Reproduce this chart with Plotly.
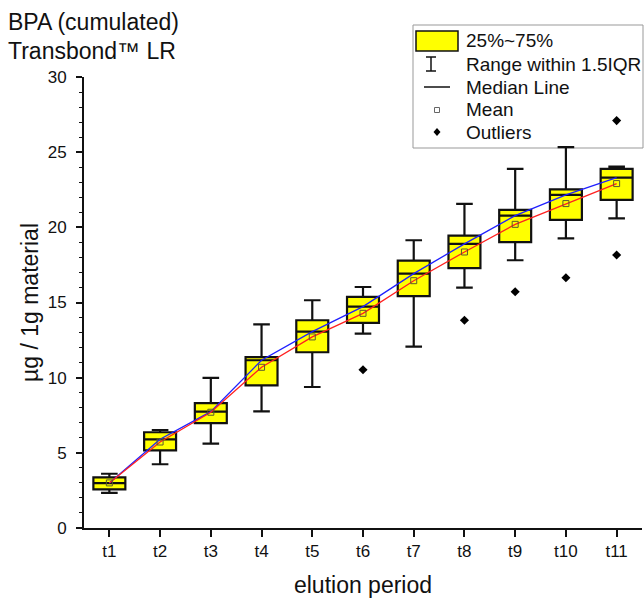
import plotly.graph_objects as go

# ---- data ----
periods = ["t1", "t2", "t3", "t4", "t5", "t6", "t7", "t8", "t9", "t10", "t11"]
whisker_low = [2.33, 4.24, 5.61, 7.76, 9.38, 12.93, 12.06, 15.99, 17.81, 19.27, 20.60]
q1 = [2.57, 5.17, 6.97, 9.49, 11.69, 13.64, 15.42, 17.28, 19.01, 20.49, 21.82]
median = [2.99, 5.90, 7.74, 11.16, 13.06, 14.73, 16.92, 18.90, 20.78, 22.16, 23.31]
q3 = [3.37, 6.37, 8.30, 11.36, 13.82, 15.37, 17.79, 19.45, 21.16, 22.53, 23.89]
whisker_high = [3.61, 6.52, 9.98, 13.55, 15.15, 16.03, 19.14, 21.56, 23.89, 25.33, 24.04]
mean = [3.00, 5.72, 7.70, 10.69, 12.71, 14.28, 16.45, 18.36, 20.20, 21.58, 22.91]
outlier_period = ["t6", "t8", "t9", "t10", "t11", "t11"]
outlier_value = [10.53, 13.82, 15.72, 16.65, 18.16, 27.10]
y_ticks = [0, 5, 10, 15, 20, 25, 30]

FONT = "Liberation Sans, Arial, sans-serif"
W, H = 644, 598
# plot area in page pixels: x 84..642, y 77..528
ML = 84
MR = W - 642
MT = 77
MB = H - 528
PW, PH = W - ML - MR, H - MT - MB


def px(x):  # page pixel -> paper
    return (x - ML) / PW


def py(y):
    return (H - MB - y) / PH


fig = go.Figure()

fig.add_trace(go.Box(
    x=periods, q1=q1, median=median, q3=q3,
    lowerfence=whisker_low, upperfence=whisker_high,
    boxpoints=False, width=0.63, whiskerwidth=0.52,
    fillcolor="#FFFF00", line=dict(color="#111111", width=2.2),
    showlegend=False, hoverinfo="skip",
))

fig.add_trace(go.Scatter(
    x=periods, y=median, mode="lines",
    line=dict(color="#1f1fff", width=1.3), showlegend=False, hoverinfo="skip",
))
fig.add_trace(go.Scatter(
    x=periods, y=mean, mode="lines",
    line=dict(color="#ff2020", width=1.3), showlegend=False, hoverinfo="skip",
))
fig.add_trace(go.Scatter(
    x=periods, y=mean, mode="markers",
    marker=dict(symbol="square-open", size=6, color="#5a5a30", line=dict(width=1)),
    showlegend=False, hoverinfo="skip",
))
fig.add_trace(go.Scatter(
    x=outlier_period, y=outlier_value, mode="markers",
    marker=dict(symbol="diamond", size=7, color="#000000"),
    showlegend=False, hoverinfo="skip", cliponaxis=False,
))

# ---- manual legend (paper coordinates) ----
shapes = []
annos = []
shapes.append(dict(type="rect", xref="paper", yref="paper",
                   x0=px(413), x1=px(643), y0=py(148), y1=py(25),
                   line=dict(color="#999999", width=1), layer="below"))
rows = [41, 64, 87, 110, 132]
labels = ["25%~75%", "Range within 1.5IQR", "Median Line", "Mean", "Outliers"]
# box icon
shapes.append(dict(type="rect", xref="paper", yref="paper",
                   x0=px(416), x1=px(458), y0=py(rows[0] + 10), y1=py(rows[0] - 10),
                   fillcolor="#FFFF00", line=dict(color="#111111", width=1.5)))
# I-beam icon
cx = 431
r = rows[1]
shapes.append(dict(type="line", xref="paper", yref="paper", x0=px(cx), x1=px(cx),
                   y0=py(r + 7), y1=py(r - 7), line=dict(color="#111111", width=1.5)))
for yy in (r - 7, r + 7):
    shapes.append(dict(type="line", xref="paper", yref="paper", x0=px(cx - 5), x1=px(cx + 5),
                       y0=py(yy), y1=py(yy), line=dict(color="#111111", width=1.5)))
# median line icon
shapes.append(dict(type="line", xref="paper", yref="paper", x0=px(424), x1=px(450),
                   y0=py(rows[2]), y1=py(rows[2]), line=dict(color="#111111", width=1.5)))
# mean icon
mx = 437
shapes.append(dict(type="rect", xref="paper", yref="paper", x0=px(mx - 2.5), x1=px(mx + 2.5),
                   y0=py(rows[3] + 2.5), y1=py(rows[3] - 2.5), line=dict(color="#666666", width=1)))
# outlier icon
r = rows[4]
shapes.append(dict(type="path", xref="paper", yref="paper",
                   path=f"M {px(mx)} {py(r - 4)} L {px(mx + 3.5)} {py(r)} L {px(mx)} {py(r + 4)} L {px(mx - 3.5)} {py(r)} Z",
                   fillcolor="#000000", line=dict(color="#000000", width=0)))
for rr, lab in zip(rows, labels):
    annos.append(dict(xref="paper", yref="paper", x=px(464), y=py(rr), text=lab,
                      showarrow=False, xanchor="left", yanchor="middle",
                      font=dict(family=FONT, size=19, color="#111111")))

# title (two lines, top-left)
annos.append(dict(xref="paper", yref="paper", x=px(6), y=py(22), text="BPA (cumulated)",
                  showarrow=False, xanchor="left", yanchor="middle",
                  font=dict(family=FONT, size=23, color="#111111")))
annos.append(dict(xref="paper", yref="paper", x=px(6), y=py(51), text="Transbond™ LR",
                  showarrow=False, xanchor="left", yanchor="middle",
                  font=dict(family=FONT, size=23, color="#111111")))

fig.update_layout(
    width=W, height=H,
    margin=dict(l=ML, r=MR, t=MT, b=MB, pad=0),
    paper_bgcolor="white", plot_bgcolor="white",
    shapes=shapes, annotations=annos,
    font=dict(family=FONT, color="#111111"),
    xaxis=dict(
        type="category", range=[-0.5, 10.5],
        showline=True, linecolor="#111111", linewidth=2,
        ticks="outside", ticklen=7, tickwidth=1.5, tickcolor="#111111",
        showgrid=False, zeroline=False,
        tickfont=dict(family=FONT, size=17, color="#111111"),
        title=dict(text="elution period", font=dict(family=FONT, size=23, color="#111111"), standoff=16),
    ),
    yaxis=dict(
        range=[0, 30], tickvals=y_ticks,
        showline=True, linecolor="#111111", linewidth=2,
        ticks="outside", ticklen=6, tickwidth=1.5, tickcolor="#111111",
        minor=dict(dtick=1, ticks="outside", ticklen=3, tickwidth=1, tickcolor="#111111"),
        showgrid=False, zeroline=False,
        tickfont=dict(family=FONT, size=17, color="#111111"),
        ticklabelstandoff=6,
        title=dict(text="µg / 1g material", font=dict(family=FONT, size=23, color="#111111"), standoff=3),
    ),
)

fig.write_html(
    "out.html",
    config={"displayModeBar": False},
    post_script="document.body.style.margin='0';document.body.style.overflow='hidden';",
)
